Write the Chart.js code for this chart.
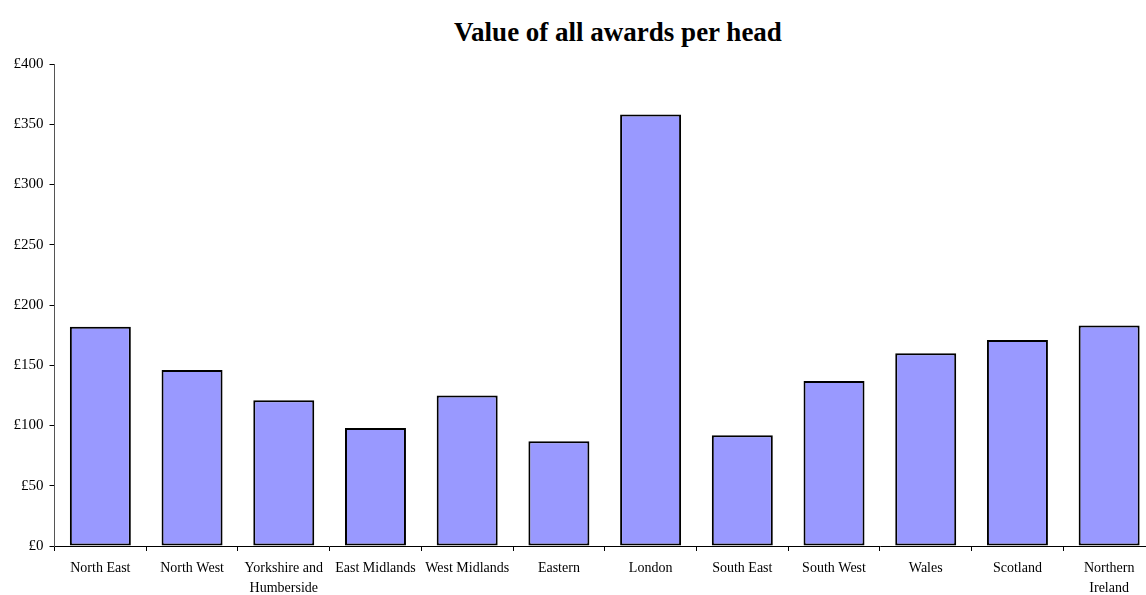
<!DOCTYPE html>
<html>
<head>
<meta charset="utf-8">
<script src="https://cdn.jsdelivr.net/npm/chart.js@4"></script>
<style>
  html, body { margin: 0; padding: 0; background: #fff; overflow: hidden; width: 1146px; height: 595px; }
  #wrap { position: absolute; left: 0; top: 0; width: 1160px; height: 595px; }
  #title { position: absolute; left: 0; top: 17px; width: 1236px; text-align: center; line-height: 31px;
           font-family: "Liberation Serif", "Times New Roman", serif; font-weight: bold; font-size: 27px; color: #000; }
</style>
</head>
<body>
<div id="title">Value of all awards per head</div>
<div id="wrap"><canvas id="c"></canvas></div>
<script>
const categories = ["North East", "North West", ["Yorkshire and", "Humberside"], "East Midlands", "West Midlands", "Eastern", "London", "South East", "South West", "Wales", "Scotland", ["Northern", "Ireland"]];
const awardsPerHead = [182, 146, 121, 98, 125, 87, 358, 92, 137, 160, 171, 183];
const yTicks = [0, 50, 100, 150, 200, 250, 300, 350, 400];

const serif = "'Liberation Serif', 'Times New Roman', serif";
new Chart(document.getElementById('c'), {
  type: 'bar',
  data: {
    labels: categories,
    datasets: [{
      data: awardsPerHead,
      backgroundColor: '#9999FF',
      borderColor: '#000000',
      borderWidth: 2,
      borderSkipped: false,
      barPercentage: 0.665,
      categoryPercentage: 1.0
    }]
  },
  options: {
    responsive: true,
    maintainAspectRatio: false,
    animation: false,
    layout: { padding: { top: 64, right: 5, left: 0, bottom: 0 } },
    plugins: { legend: { display: false }, tooltip: { enabled: false }, title: { display: false } },
    scales: {
      x: {
        grid: { display: true, offset: true, drawOnChartArea: false, drawTicks: true, tickLength: 5, color: '#000' },
        border: { display: true, color: '#000', width: 1 },
        ticks: { color: '#000', font: { family: serif, size: 14, lineHeight: 1.4 }, padding: 8, maxRotation: 0, autoSkip: false },
        afterFit: (s) => { s.height = 49; }
      },
      y: {
        min: 0, max: 400,
        afterBuildTicks: (s) => { s.ticks = yTicks.map(v => ({ value: v })); },
        grid: { display: true, drawOnChartArea: false, drawTicks: true, tickLength: 5, color: '#000' },
        border: { display: true, color: '#555', width: 1 },
        ticks: { color: '#000', font: { family: serif, size: 15 }, padding: 6, callback: (v) => '£' + v },
        afterFit: (s) => { s.width = 54.5; }
      }
    }
  }
});
</script>
</body>
</html>
